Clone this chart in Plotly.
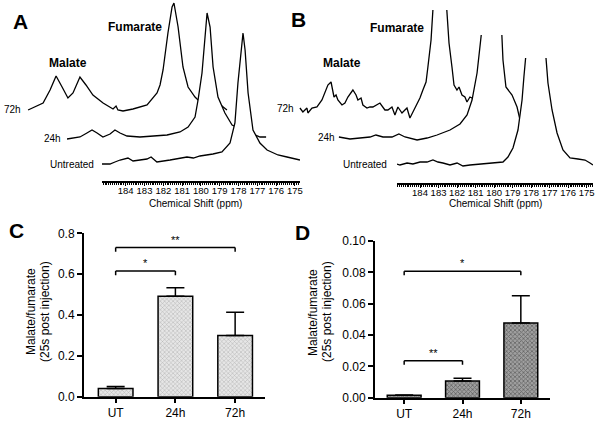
import plotly.graph_objects as go

W, H = 600, 427
FONT = "Arial, 'Liberation Sans', sans-serif"

# ---------------- Data ----------------
# Panel A: 13C spectra, chemical shift (ppm) and intensity (a.u.)
A_UT_ppm = [185.26, 184.84, 184.57, 184.30, 183.88, 183.61, 183.24, 182.87, 182.65, 182.44,
            182.34, 181.64, 181.30, 181.00, 180.74, 180.40, 180.05, 179.36, 178.88, 178.45,
            178.19, 178.03, 177.87, 177.76, 177.65, 177.49, 177.23, 176.86, 176.48, 176.17,
            175.90, 175.42, 174.73]
A_UT_int = [-2, -2, 0, 2, 4, 1, 2, 3, 5, 2,
            0, 2, 3, 4, 5, 4, 6, 8, 10, 19,
            39, 79, 112, 129, 112, 69, 32, 19, 12, 9,
            7, 5, 2]
A_24_ppm = [185.26, 184.57, 184.20, 183.93, 183.66, 183.35, 182.97, 182.71, 182.44, 182.07,
            181.38, 180.31, 179.94, 179.25, 178.82, 178.45, 178.29, 178.08, 177.92, 177.81,
            177.65, 177.49, 177.23, 176.86, 176.48, 175.79, 174.99, 174.67]
A_24_int = [-2, 0, 4, 7, 4, 0, 3, 7, 4, 1,
            0, 1, 2, 5, 10, 20, 37, 64, 104, 124,
            110, 70, 40, 24, 12, 6, 0, 0]
A_72_ppm = [185.47, 184.67, 184.30, 183.98, 183.66, 183.35, 183.08, 182.71, 182.39, 182.02,
            181.48, 180.95, 180.79, 180.69, 180.42, 179.89, 179.14, 178.61, 178.45, 178.29,
            178.03, 177.81, 177.71, 177.49, 177.23, 176.96, 176.59, 176.32, 175.53, 175.16,
            174.89]
A_72_int = [0, 7, 20, 34, 23, 12, 17, 33, 25, 15,
            7, 1, 4, 0, -1, 1, 5, 17, 25, 40,
            77, 103, 107, 83, 43, 23, 13, 8, 3, 4,
            0]

# Panel B spectra
B_UT_ppm = [185.24, 185.08, 184.70, 184.38, 184.00, 183.62, 183.30, 183.03, 182.76, 182.38,
            182.00, 181.68, 181.30, 180.76, 180.38, 179.84, 179.52, 179.25, 178.98, 178.71,
            178.49, 178.39, 178.28, 178.17, 178.01, 177.74, 177.47, 177.31, 177.20, 177.09,
            176.87, 176.60, 176.28, 175.90, 175.47, 175.09, 174.82, 174.66]
B_UT_int = [0, -1, 1, 0, 2, 2, 4, 2, 1, -1,
            1, -2, -1, 0, 0, 1, 2, 7, 16, 34,
            64, 87, 106, 130, 170, 220, 170, 130, 106, 81,
            54, 31, 14, 6, 5, 4, 1, -1]
B_24_ppm = [185.95, 185.35, 184.81, 184.27, 183.95, 183.57, 183.08, 182.71, 182.38, 181.73,
            181.19, 180.65, 179.95, 179.41, 179.03, 178.76, 178.49, 178.22, 178.06, 177.68,
            177.31, 177.15, 177.09, 176.93, 176.60, 176.33, 176.17, 175.63, 175.09]
B_24_int = [0, -2, -1, 0, 2, 0, 0, 3, 0, -3,
            -1, 2, 7, 13, 22, 37, 64, 102, 140, 200,
            140, 102, 77, 50, 42, 30, 17, 5, 1]
B_72_ppm = [185.30, 185.14, 184.92, 184.87, 184.65, 184.38, 184.11, 183.95, 183.79, 183.62,
            183.57, 183.46, 183.35, 183.25, 183.03, 182.87, 182.71, 182.54, 182.44, 182.27,
            182.17, 182.00, 181.90, 181.68, 181.52, 181.36, 181.14, 180.98, 180.71, 180.55,
            180.33, 180.17, 180.01, 179.79, 179.63, 179.52, 179.36, 179.20, 179.03, 178.82,
            178.66, 178.49, 178.39, 178.22, 178.12, 177.95, 177.74, 177.52, 177.36, 177.25,
            177.09, 176.98, 176.82, 176.71, 176.55, 176.39, 176.28, 176.12, 176.01, 175.58]
B_72_int = [0, -4, 0, -5, 0, 1, 8, 15, 23, 26,
            20, 11, 13, 8, 3, 5, 11, 16, 18, 13,
            8, 10, 3, 0, 1, 1, 3, 5, -2, -2,
            1, -7, 1, -5, -2, 0, -10, -4, 1, 10,
            18, 26, 41, 68, 98, 140, 180, 140, 98, 65,
            41, 23, 18, 21, 13, 11, 6, 11, 10, 3]

ppm_tick_vals = [184, 183, 182, 181, 180, 179, 178, 177, 176, 175]
ppm_tick_text = ["184", "183", "182", "181", "180", "179", "178", "177", "176", "175"]

# Panels C, D: bar charts (mean + SEM)
bar_categories = ["UT", "24h", "72h"]
C_means = [0.040, 0.492, 0.300]
C_sem = [0.010, 0.042, 0.113]
D_means = [0.0015, 0.0106, 0.0477]
D_sem = [0.0003, 0.0018, 0.0174]
C_yticks = [0.0, 0.2, 0.4, 0.6, 0.8]
D_yticks = [0.00, 0.02, 0.04, 0.06, 0.08, 0.10]
# significance brackets: (from category index, to category index, height, label)
C_brackets = [(0, 1, 0.615, "*"), (0, 2, 0.730, "**")]
D_brackets = [(0, 1, 0.0236, "**"), (0, 2, 0.0807, "*")]


# ---------------- Layout helpers ----------------
def px(x):
    return x / W


def py(y):
    return 1 - y / H


A_geo = dict(ref_ppm=184.0, ref_x=125.7, ppp=18.8)
B_geo = dict(ref_ppm=184.0, ref_x=420.0, ppp=18.52)


def ppm_at(geo, xpx):
    return geo["ref_ppm"] - (xpx - geo["ref_x"]) / geo["ppp"]


fig = go.Figure()
layout = {}


def add_spectrum(n, ppm, inten, geo, dx, base, top, x0, x1, axis_y=None):
    xk = "xaxis" if n == 1 else f"xaxis{n}"
    yk = "yaxis" if n == 1 else f"yaxis{n}"
    xr = "x" if n == 1 else f"x{n}"
    yr = "y" if n == 1 else f"y{n}"
    xa = dict(domain=[px(x0), px(x1)],
              range=[ppm_at(geo, x0 - dx), ppm_at(geo, x1 - dx)],
              anchor=yr, showgrid=False, zeroline=False, visible=False, automargin=False)
    if axis_y is not None:
        minor_vals = [round(175 + 0.1 * k, 1) for k in range(-5, 106)]
        xa.update(visible=True, anchor="free", position=py(axis_y), side="bottom",
                  showline=True, linecolor="black", linewidth=1.5,
                  tickmode="array", tickvals=ppm_tick_vals, ticktext=ppm_tick_text,
                  ticks="outside", ticklen=3, tickwidth=1, tickcolor="black", tickangle=0,
                  ticklabelstandoff=-3,
                  tickfont=dict(size=9.5, color="black", family=FONT),
                  minor=dict(tickmode="array", tickvals=minor_vals, ticks="outside",
                             ticklen=2, tickwidth=1, tickcolor="black", showgrid=False))
    layout[xk] = xa
    layout[yk] = dict(domain=[py(base + 12), py(top)], range=[-12, base - top],
                      anchor=xr, visible=False, showgrid=False, zeroline=False,
                      automargin=False)
    fig.add_trace(go.Scatter(x=ppm, y=inten, xaxis=xr, yaxis=yr, mode="lines",
                             line=dict(color="black", width=1.3),
                             fill="tozeroy", fillcolor="white",
                             hoverinfo="skip", showlegend=False))


# Panel A (back to front)
add_spectrum(1, A_72_ppm, A_72_int, A_geo, -70, 110, 0, 25, 235)
add_spectrum(2, A_24_ppm, A_24_int, A_geo, -35, 137, 0, 60, 270)
add_spectrum(3, A_UT_ppm, A_UT_int, A_geo, 0, 162, 0, 102, 300, axis_y=181)
# Panel B (back to front)
add_spectrum(4, B_72_ppm, B_72_int, B_geo, -96, 108, 10, 284, 504)
add_spectrum(5, B_24_ppm, B_24_int, B_geo, -45, 137, 35, 335, 555)
add_spectrum(6, B_UT_ppm, B_UT_int, B_geo, 0, 164, 58, 397, 593, axis_y=183)


def add_bars(n, means, sem, x0, x1, y0px, y1px, yticks, yfmt, yrange, xrange, pat):
    xr, yr = f"x{n}", f"y{n}"
    fig.add_trace(go.Bar(x=bar_categories, y=means, xaxis=xr, yaxis=yr, width=0.58,
                         marker=dict(color=pat["bgcolor"], line=dict(color="black", width=1.5),
                                     pattern=pat),
                         error_y=dict(type="data", array=sem, arrayminus=[0, 0, 0],
                                      symmetric=False, color="black", thickness=1.5, width=9),
                         hoverinfo="skip", showlegend=False))
    axis_common = dict(showline=True, linecolor="black", linewidth=2, ticks="outside",
                       tickwidth=2, tickcolor="black", showgrid=False, zeroline=False,
                       automargin=False, tickangle=0,
                       tickfont=dict(size=12, color="black", family=FONT))
    layout[f"xaxis{n}"] = dict(domain=[px(x0), px(x1)], anchor=yr, type="category",
                               range=xrange, ticklen=4, **axis_common)
    layout[f"yaxis{n}"] = dict(domain=[py(y0px), py(y1px)], anchor=xr, range=yrange,
                               tickmode="array", tickvals=yticks, tickformat=yfmt,
                               ticklen=5, **axis_common)


add_bars(7, C_means, C_sem, 84, 265, 396.7, 233.3, C_yticks, ".1f", [0, 0.8], [-0.53, 2.5],
         dict(shape="x", size=3, solidity=0.3, fgcolor="#7a7a7a", bgcolor="#e6e6e6"))
add_bars(8, D_means, D_sem, 375, 550, 397.7, 241, D_yticks, ".2f", [0, 0.1], [-0.5, 2.5],
         dict(shape="x", size=3, solidity=0.45, fgcolor="#2a2a2a", bgcolor="#a0a0a0"))

shapes = []
annotations = []


def add_brackets(n, brackets, leg):
    for a, b, h, lab in brackets:
        for (xa0, ya0, xa1, ya1) in [(a, h, b, h), (a, h, a, h - leg), (b, h, b, h - leg)]:
            shapes.append(dict(type="line", xref=f"x{n}", yref=f"y{n}", x0=xa0, y0=ya0,
                               x1=xa1, y1=ya1, line=dict(color="black", width=1.5)))
        annotations.append(dict(x=(a + b) / 2, y=h, xref=f"x{n}", yref=f"y{n}", text=lab,
                                showarrow=False, yanchor="bottom", yshift=0,
                                font=dict(size=11, color="black", family=FONT)))


add_brackets(7, C_brackets, 0.02)
add_brackets(8, D_brackets, 0.0026)


def txt(x, y, s, size, bold=False, angle=0):
    annotations.append(dict(x=px(x), y=py(y), xref="paper", yref="paper",
                            text=f"<b>{s}</b>" if bold else s, showarrow=False,
                            xanchor="center", yanchor="middle", textangle=angle,
                            font=dict(size=size, color="black", family=FONT)))


# panel letters
txt(20, 21, "A", 21, True)
txt(298, 19, "B", 21, True)
txt(16, 230, "C", 21, True)
txt(302, 232, "D", 21, True)
# panel A labels
txt(135, 27, "Fumarate", 12, True)
txt(68, 63, "Malate", 12, True)
txt(12, 109, "72h", 10)
txt(52, 139, "24h", 10)
txt(72, 164, "Untreated", 10)
txt(195, 203, "Chemical Shift (ppm)", 10)
# panel B labels
txt(397, 28, "Fumarate", 12, True)
txt(342, 63, "Malate", 12, True)
txt(285, 108, "72h", 10)
txt(326, 137, "24h", 10)
txt(365, 164, "Untreated", 10)
txt(495, 203, "Chemical Shift (ppm)", 10)
# bar chart y titles
txt(31, 312, "Malate/fumarate", 12, angle=-90)
txt(45, 312, "(25s post injection)", 12, angle=-90)
txt(313, 312, "Malate/fumarate", 12, angle=-90)
txt(327, 312, "(25s post injection)", 12, angle=-90)

fig.update_layout(width=W, height=H,
                  margin=dict(l=0, r=0, t=0, b=0, pad=0, autoexpand=False),
                  paper_bgcolor="white", plot_bgcolor="rgba(0,0,0,0)",
                  font=dict(family=FONT, color="black"), showlegend=False,
                  shapes=shapes, annotations=annotations, bargap=0.4, **layout)

fig.write_html("out.html",
               config={"displayModeBar": False, "staticPlot": True},
               post_script="document.body.style.margin='0px';"
                           "document.body.style.padding='0px';"
                           "document.documentElement.style.overflow='hidden';")
